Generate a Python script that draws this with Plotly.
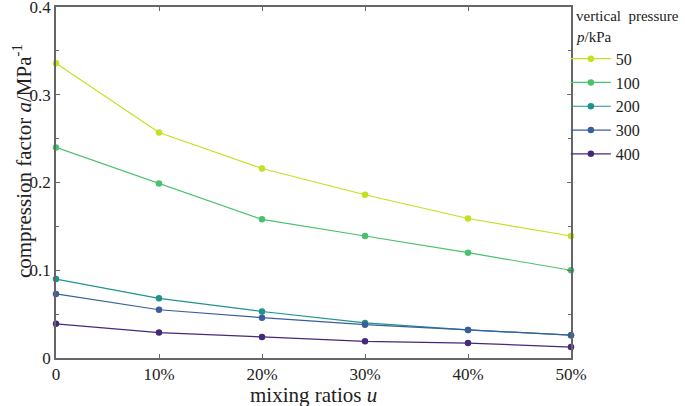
import plotly.graph_objects as go

mixing = [0, 10, 20, 30, 40, 50]
tick_labels = ["0", "10%", "20%", "30%", "40%", "50%"]
y_ticks = [0, 0.1, 0.2, 0.3, 0.4]
y_tick_labels = ["0", "0.1", "0.2", "0.3", "0.4"]
pressures = ["50", "100", "200", "300", "400"]
a_50 = [0.336, 0.257, 0.216, 0.186, 0.159, 0.139]
a_100 = [0.240, 0.199, 0.158, 0.139, 0.120, 0.100]
a_200 = [0.090, 0.068, 0.053, 0.040, 0.032, 0.026]
a_300 = [0.073, 0.055, 0.046, 0.038, 0.032, 0.026]
a_400 = [0.039, 0.029, 0.024, 0.019, 0.017, 0.0125]
colors = ["#c5e021", "#4ac16d", "#20928c", "#3b5e9a", "#46287a"]

series = [a_50, a_100, a_200, a_300, a_400]

FF = "Liberation Serif"
TXT = "#222"

fig = go.Figure()
for name, vals, c in zip(pressures, series, colors):
    fig.add_trace(go.Scatter(
        x=mixing, y=vals, name=name, mode="lines+markers",
        line=dict(color=c, width=1.2),
        marker=dict(color=c, size=6.5),
        cliponaxis=False,
    ))

fig.update_layout(
    width=685, height=406,
    margin=dict(l=56, r=114, t=7, b=48),
    paper_bgcolor="white", plot_bgcolor="white",
    font=dict(family=FF, size=17, color=TXT),
    showlegend=True,
    legend=dict(
        x=0.990, xanchor="left", y=0.901, yanchor="top",
        font=dict(size=16, family=FF, color=TXT),
        bgcolor="rgba(0,0,0,0)", borderwidth=0,
        tracegroupgap=0, itemwidth=40,
    ),
    xaxis=dict(
        range=[0, 50], tickvals=mixing, ticktext=tick_labels,
        showgrid=False, zeroline=False, automargin=False,
        showline=True, linecolor="#666", linewidth=1.5, mirror="ticks",
        ticks="inside", ticklen=4, tickcolor="#666",
        ticklabeloverflow="allow",
        tickfont=dict(size=17, family=FF, color=TXT),
    ),
    yaxis=dict(
        range=[0, 0.4], tickvals=y_ticks, ticktext=y_tick_labels,
        showgrid=False, zeroline=False, automargin=False,
        showline=True, linecolor="#666", linewidth=1.5, mirror="ticks",
        ticks="inside", ticklen=4, tickcolor="#666",
        minor=dict(ticks="inside", dtick=0.05, ticklen=3, tickcolor="#666"),
        ticklabeloverflow="allow",
        tickfont=dict(size=17, family=FF, color=TXT),
    ),
    annotations=[
        dict(text="compression factor <i>a</i>/MPa<sup>-1</sup>", xref="paper", yref="paper",
             x=-0.066, y=0.561, textangle=-90, showarrow=False,
             xanchor="center", yanchor="middle", font=dict(size=21, family=FF, color=TXT)),
        dict(text="mixing ratios <i>u</i>", xref="paper", yref="paper",
             x=0.5, y=-0.105, showarrow=False,
             xanchor="center", yanchor="middle", font=dict(size=21, family=FF, color=TXT)),
        dict(text="vertical  pressure", xref="paper", yref="paper",
             x=1.006, y=0.975, showarrow=False,
             xanchor="left", yanchor="middle", font=dict(size=15, family=FF, color=TXT)),
        dict(text="<i>p</i>/kPa", xref="paper", yref="paper",
             x=1.006, y=0.915, showarrow=False,
             xanchor="left", yanchor="middle", font=dict(size=15, family=FF, color=TXT)),
    ],
)

fig.write_html("out.html", config={"displayModeBar": False},
               post_script="document.body.style.margin='0';")
